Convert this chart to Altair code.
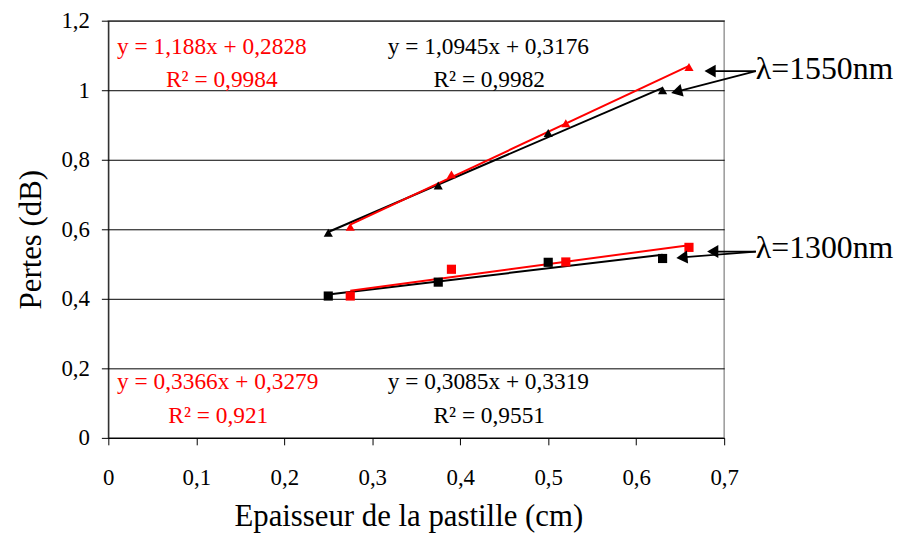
import altair as alt
import pandas as pd

# ---- data ----
x_black = [0.25, 0.375, 0.5, 0.63]
x_red = [0.275, 0.39, 0.52, 0.66]
y_black_1550 = [0.59, 0.726, 0.877, 1.0]
y_red_1550 = [0.607, 0.758, 0.905, 1.067]
y_black_1300 = [0.408, 0.448, 0.505, 0.516]
y_red_1300 = [0.408, 0.485, 0.506, 0.548]

x_ticks = [0, 0.1, 0.2, 0.3, 0.4, 0.5, 0.6, 0.7]
y_ticks = [0, 0.2, 0.4, 0.6, 0.8, 1.0, 1.2]

eq_texts = ["y = 1,188x + 0,2828", "R² = 0,9984", "y = 1,0945x + 0,3176", "R² = 0,9982",
            "y = 0,3366x + 0,3279", "R² = 0,921", "y = 0,3085x + 0,3319", "R² = 0,9551"]
eq_x = [0.010, 0.129, 0.432, 0.433, 0.010, 0.125, 0.432, 0.433]
eq_y = [1.124, 1.030, 1.124, 1.030, 0.162, 0.062, 0.162, 0.062]
eq_color = ["red", "red", "black", "black", "red", "red", "black", "black"]
eq_align = ["left", "center", "center", "center", "left", "center", "center", "center"]

wl_labels = ["λ=1550nm", "λ=1300nm"]
wl_x = [0.736, 0.736]
wl_y = [1.060, 0.545]
# arrow tips (two per label)
arrow_x0 = [0.736, 0.736, 0.736, 0.736]
arrow_y0 = [1.055, 1.055, 0.536, 0.536]
arrow_x1 = [0.684, 0.646, 0.687, 0.652]
arrow_y1 = [1.055, 0.996, 0.536, 0.519]
arrow_angle = [0, 346, 0, 355]

FONT = "Liberation Serif"

rows = []
for xs, ys, s, c, sh in [
    (x_black, y_black_1550, "b1550", "black", "triangle-up"),
    (x_red, y_red_1550, "r1550", "red", "triangle-up"),
    (x_black, y_black_1300, "b1300", "black", "square"),
    (x_red, y_red_1300, "r1300", "red", "square"),
]:
    for xv, yv in zip(xs, ys):
        rows.append({"x": xv, "y": yv, "series": s, "color": c, "shape": sh})
df = pd.DataFrame(rows)

xscale = alt.Scale(domain=[0, 0.7], nice=False, zero=False)
yscale = alt.Scale(domain=[0, 1.2], nice=False, zero=False)

xaxis = alt.Axis(values=x_ticks, format=".1~f", labelExpr="replace(datum.label, '.', ',')",
                 grid=False, tickSize=7, tickColor="black", domainColor="black",
                 labelFlush=False, labelOverlap=False,
                 labelFontSize=23, labelColor="black", labelPadding=22,
                 title="Epaisseur de la pastille (cm)", titleFontSize=31,
                 titleFontWeight="normal", titleColor="black", titlePadding=12,
                 titleX=302)
yaxis = alt.Axis(values=y_ticks, format=".1~f", labelExpr="replace(datum.label, '.', ',')",
                 grid=True, gridColor="black", gridWidth=1, gridOpacity=1,
                 labelFlush=False, labelOverlap=False,
                 tickSize=7, tickColor="black", domainColor="black",
                 labelFontSize=23, labelColor="black", labelPadding=12,
                 title="Pertes (dB)", titleFontSize=31,
                 titleFontWeight="normal", titleColor="black", titlePadding=14,
                 titleY=220)

base = alt.Chart(df)

points = base.mark_point(filled=True, opacity=1, size=85).encode(
    x=alt.X("x:Q", scale=xscale, axis=xaxis),
    y=alt.Y("y:Q", scale=yscale, axis=yaxis),
    color=alt.Color("color:N", scale=None),
    shape=alt.Shape("shape:N", scale=None),
)

lines = base.transform_regression("x", "y", groupby=["series", "color"]).mark_line(strokeWidth=2).encode(
    x=alt.X("x:Q", scale=xscale),
    y=alt.Y("y:Q", scale=yscale),
    color=alt.Color("color:N", scale=None),
    detail="series:N",
)

eq_df = pd.DataFrame({"t": eq_texts, "x": eq_x, "y": eq_y, "c": eq_color, "a": eq_align})
eq_left = alt.Chart(eq_df[eq_df.a == "left"]).mark_text(
    fontSize=23.5, align="left", baseline="middle").encode(
    x=alt.X("x:Q", scale=xscale), y=alt.Y("y:Q", scale=yscale),
    text="t:N", color=alt.Color("c:N", scale=None))
eq_center = alt.Chart(eq_df[eq_df.a == "center"]).mark_text(
    fontSize=23.5, align="center", baseline="middle").encode(
    x=alt.X("x:Q", scale=xscale), y=alt.Y("y:Q", scale=yscale),
    text="t:N", color=alt.Color("c:N", scale=None))

wl_df = pd.DataFrame({"t": wl_labels, "x": wl_x, "y": wl_y})
wl_text = alt.Chart(wl_df).mark_text(
    fontSize=32, align="left", baseline="middle", color="black", dx=0).encode(
    x=alt.X("x:Q", scale=xscale), y=alt.Y("y:Q", scale=yscale), text="t:N")

ar_df = pd.DataFrame({"x0": arrow_x0, "y0": arrow_y0, "x1": arrow_x1, "y1": arrow_y1, "ang": arrow_angle})
ar_lines = alt.Chart(ar_df).mark_rule(color="black", strokeWidth=1.8).encode(
    x=alt.X("x0:Q", scale=xscale), y=alt.Y("y0:Q", scale=yscale),
    x2="x1:Q", y2="y1:Q")
ar_heads = alt.Chart(ar_df).mark_point(
    shape="triangle-left", filled=True, color="black", opacity=1, size=170).encode(
    x=alt.X("x1:Q", scale=xscale), y=alt.Y("y1:Q", scale=yscale),
    angle=alt.Angle("ang:Q", scale=None))

chart = alt.layer(lines, points, eq_left, eq_center, ar_lines, ar_heads, wl_text).properties(
    width=620, height=420,
    autosize=alt.AutoSizeParams(type="none"),
    padding={"left": 101, "top": 11, "right": 174, "bottom": 96},
    background="white",
).configure(font=FONT).configure_view(stroke="#999999", strokeWidth=1.5)

chart.save("out.html", embed_options={"renderer": "svg", "actions": False})
